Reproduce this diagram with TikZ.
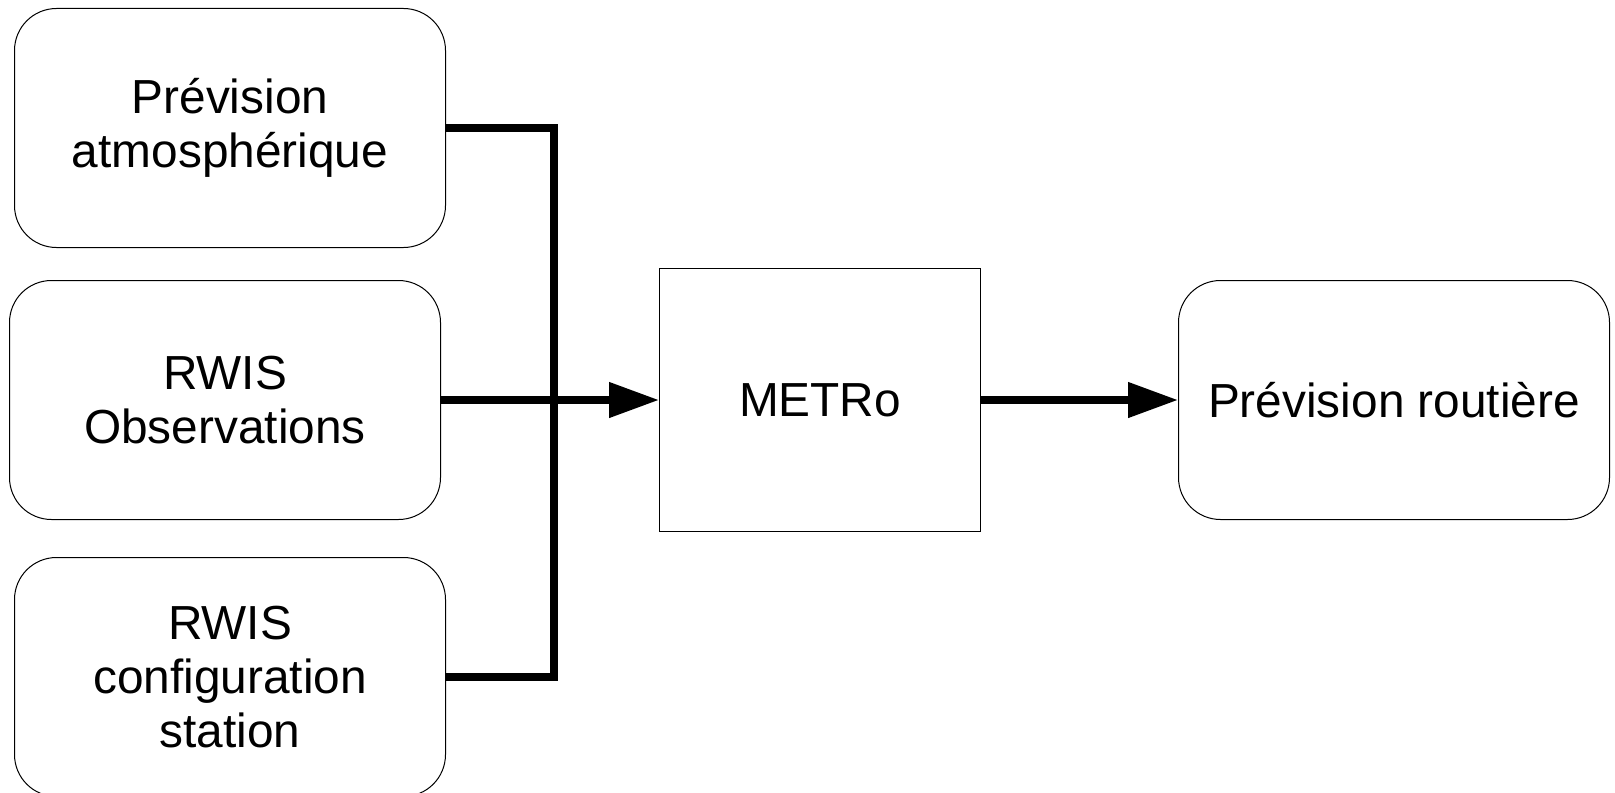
\documentclass[tikz,border=0pt]{standalone}
\usepackage{fontspec}
\setmainfont{Liberation Sans}
\usetikzlibrary{positioning, arrows.meta}
\tikzset{
>={Triangle[length=25pt, width=17pt]}, % big filled arrow heads
node distance=136pt, % centre to centre distance of the input boxes
box/.style={draw, line width=0.5pt, rounded corners=21pt, minimum width=215.5pt, minimum height=119.5pt, inner sep=0pt, align=center, font=\fontsize{23.9}{27}\selectfont}, % rounded boxes
model/.style={box, sharp corners, minimum width=160.5pt, minimum height=131.5pt}, % the model itself
flow/.style={line width=3.8pt}, % thick connectors
}
\begin{document}
\begin{tikzpicture}[x=0.5pt, y=-0.5pt]
                \useasboundingbox (0,0) rectangle (1615,792);
                \node[box] (atm) at (230,128) {Prévision\\atmosphérique};
                \node[box, below of=atm, xshift=-2.5pt] (obs) {RWIS\\Observations};
                \node[box, below of=obs, xshift=2.5pt, node distance=138.5pt] (stn) {RWIS\\configuration\\station};
                \node[model, right of=obs, node distance=297.5pt] (metro) {METRo};
                \node[box, right of=metro, node distance=287pt] (road) {Prévision routière};
                \draw[flow] (atm.east) -- ++(108,0) coordinate (bus) |- (stn.east);
                \draw[flow, ->] (obs.east) -- (metro.west);
                \draw[flow, ->] (metro.east) -- (road.west);
                \end{tikzpicture}
\end{document}
